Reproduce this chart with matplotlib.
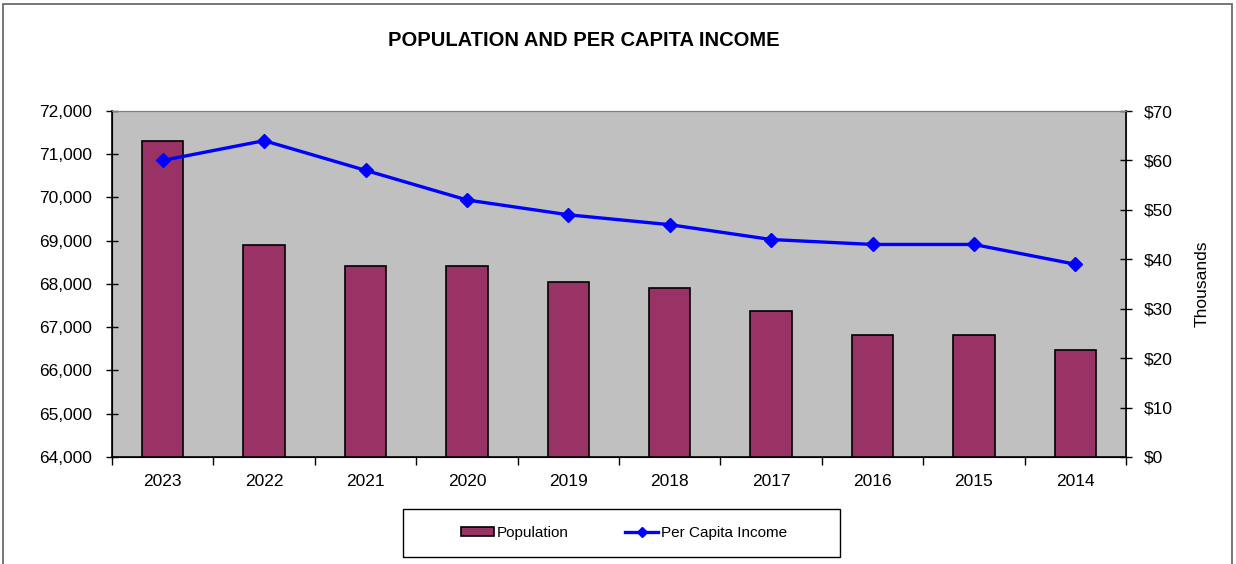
import matplotlib.pyplot as plt
import numpy as np
from matplotlib.lines import Line2D
from matplotlib.patches import Patch, Rectangle
from matplotlib.ticker import FuncFormatter

plt.rcParams["font.family"] = ["Liberation Sans", "DejaVu Sans"]

years = ["2023", "2022", "2021", "2020", "2019", "2018", "2017", "2016", "2015", "2014"]
population = [71300, 68900, 68420, 68420, 68050, 67910, 67380, 66830, 66830, 66480]
per_capita_income = [60000, 64000, 58000, 52000, 49000, 47000, 44000, 43000, 43000, 39000]

W, H = 1236, 564
FS = 12.5
fig = plt.figure(figsize=(W / 100, H / 100), dpi=100)
ax = fig.add_axes([112 / W, 1 - 457 / H, (1126 - 112) / W, (457 - 111) / H])
ax.set_facecolor("#c0c0c0")

x = np.arange(len(years))
ax.bar(x, population, width=0.41, color="#993366", edgecolor="black", linewidth=1.2, zorder=2)
ax.set_xlim(-0.5, len(years) - 0.5)
ax.set_ylim(64000, 72000)
ax.set_yticks(np.arange(64000, 72001, 1000))
ax.yaxis.set_major_formatter(FuncFormatter(lambda v, _: f"{v:,.0f}"))
ax.set_xticks(x)
ax.set_xticklabels(years)
ax.set_xticks(np.arange(-0.5, len(years), 1), minor=True)
ax.tick_params(axis="x", which="major", length=0, labelsize=FS, pad=12)
ax.tick_params(axis="x", which="minor", length=6, width=1, direction="out")
ax.tick_params(axis="y", direction="inout", length=9, width=1, labelsize=FS, pad=10)
ax.spines["top"].set_color("#808080")
ax.spines["right"].set_color("#808080")
for s in ["left", "bottom"]:
    ax.spines[s].set_linewidth(1.2)

ax2 = ax.twinx()
ax2.plot(x, per_capita_income, color="#0000ff", linewidth=2.4, marker="D",
         markersize=7, zorder=3)
ax2.set_ylim(0, 70000)
ax2.set_yticks(np.arange(0, 70001, 10000))
ax2.yaxis.set_major_formatter(FuncFormatter(lambda v, _: f"${v / 1000:.0f}"))
ax2.tick_params(axis="y", direction="inout", length=9, width=1, labelsize=FS, pad=8)
ax2.spines["right"].set_linewidth(1.2)
ax2.spines["top"].set_color("#808080")
ax2.set_ylabel("Thousands", fontsize=FS, labelpad=16)

fig.text(584 / W, 1 - 40 / H, "POPULATION AND PER CAPITA INCOME",
         ha="center", va="center", fontsize=14.5, fontweight="bold")

# legend with a plain rectangular frame drawn separately
handles = [
    Patch(facecolor="#993366", edgecolor="black", linewidth=1.2),
    Line2D([0], [0], color="#0000ff", linewidth=2.4, marker="D", markersize=5),
]
fig.legend(handles, ["Population", "Per Capita Income"], loc="center",
           bbox_to_anchor=(624 / W, 1 - 533 / H), ncol=2, fontsize=11,
           frameon=False, columnspacing=3.7, handlelength=2.15,
           handleheight=0.6, handletextpad=0.2, borderaxespad=0, borderpad=0)
fig.patches.append(Rectangle((403 / W, 1 - 557 / H), (840 - 403) / W, 48 / H,
                             transform=fig.transFigure, fill=False,
                             edgecolor="black", linewidth=1.0))

# outer chart border
fig.patches.append(Rectangle((3 / W, -0.1), (1232 - 3) / W, 1.1 - 4 / H,
                             transform=fig.transFigure, fill=False,
                             edgecolor="#606060", linewidth=1.2))

fig.savefig("out.png", dpi=100)
